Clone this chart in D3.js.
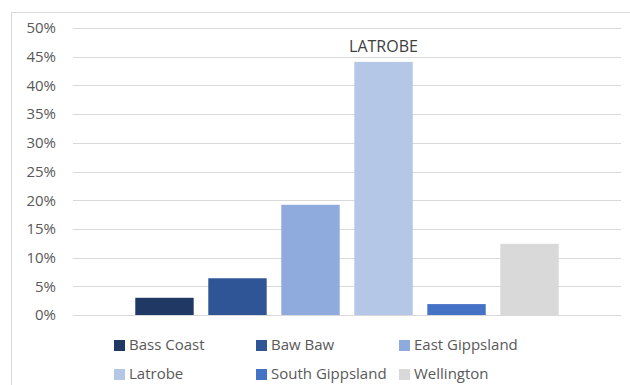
<!DOCTYPE html>
<html>
<head>
<meta charset="utf-8">
<script src="https://cdn.jsdelivr.net/npm/d3@7"></script>
<style>
  body { margin: 0; background: #fff; }
  svg { display: block; font-family: "Open Sans", Lato, sans-serif; }
</style>
</head>
<body>
<svg id="chart" width="630" height="385"></svg>
<script>
// data
const districts = ["Bass Coast", "Baw Baw", "East Gippsland", "Latrobe", "South Gippsland", "Wellington"];
const shares = [0.030, 0.064, 0.192, 0.441, 0.019, 0.124];
const colours = ["#203864", "#2f5597", "#8faadc", "#b4c7e7", "#4472c4", "#d9d9d9"];
const yTicks = [0, 0.05, 0.10, 0.15, 0.20, 0.25, 0.30, 0.35, 0.40, 0.45, 0.50];
const labelled = "Latrobe";

const svg = d3.select("#chart");

// chart frame (clipped at right and bottom)
svg.append("path")
    .attr("d", "M11.5,385 L11.5,12.5 L630,12.5")
    .attr("fill", "none")
    .attr("stroke", "#d9d9d9");

const plotLeft = 73, plotRight = 621, plotTop = 28, plotBottom = 315;

const y = d3.scaleLinear().domain([0, 0.5]).range([plotBottom, plotTop]);
const x = d3.scaleBand().domain(districts).range([plotLeft, plotRight])
    .paddingInner(0.2).paddingOuter(0.853);

// gridlines
svg.append("g").selectAll("line")
    .data(yTicks)
    .join("line")
    .attr("x1", plotLeft).attr("x2", plotRight)
    .attr("y1", d => Math.round(y(d)) + 0.5)
    .attr("y2", d => Math.round(y(d)) + 0.5)
    .attr("stroke", "#d9d9d9")
    .attr("stroke-width", 1);

// y axis labels
const yAxis = d3.axisLeft(y).tickValues(yTicks).tickFormat(d3.format(".0%")).tickSize(0).tickPadding(0);
svg.append("g")
    .attr("transform", `translate(56,0)`)
    .call(yAxis)
    .call(g => g.select(".domain").remove())
    .call(g => g.selectAll("text")
        .attr("fill", "#595959")
        .style("font-size", "15px")
        .style("font-family", "'Open Sans', sans-serif"));

// bars
svg.append("g").selectAll("rect")
    .data(districts)
    .join("rect")
    .attr("x", d => x(d))
    .attr("width", x.bandwidth())
    .attr("y", (d, i) => y(shares[i]))
    .attr("height", (d, i) => y(0) - y(shares[i]))
    .attr("fill", (d, i) => colours[i]);

// data label
const li = districts.indexOf(labelled);
svg.append("text")
    .attr("x", x(labelled) + x.bandwidth() / 2)
    .attr("y", y(shares[li]) - 10)
    .attr("text-anchor", "middle")
    .attr("fill", "#404040")
    .style("font-size", "16px")
    .text(labelled.toUpperCase());

// legend
const legendCols = [114, 256, 399];
const legendRows = [345, 374];
const legend = svg.append("g").selectAll("g")
    .data(districts)
    .join("g")
    .attr("transform", (d, i) => `translate(${legendCols[i % 3]},${legendRows[Math.floor(i / 3)]})`);

legend.append("rect")
    .attr("x", 0).attr("y", -5)
    .attr("width", 11).attr("height", 11)
    .attr("fill", (d, i) => colours[i]);

legend.append("text")
    .attr("x", 15)
    .attr("y", 0)
    .attr("dy", "0.35em")
    .attr("fill", "#595959")
    .style("font-size", "15px")
    .text(d => d);
</script>
</body>
</html>
